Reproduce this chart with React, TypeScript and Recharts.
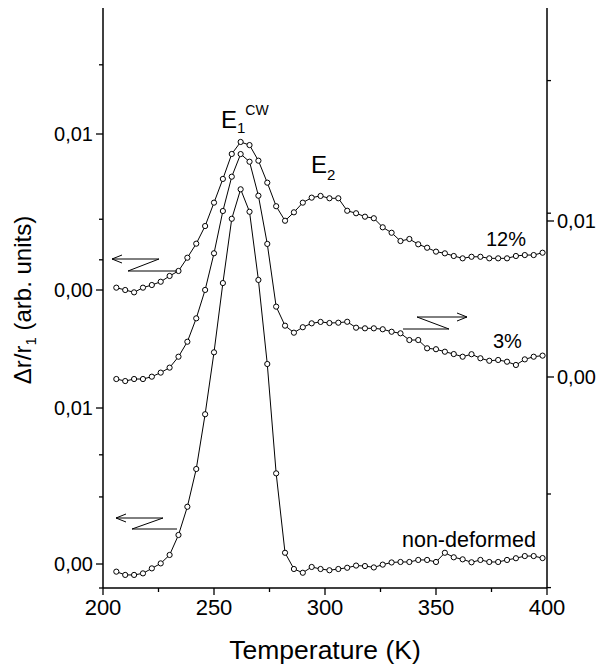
import React from "react";
import { LineChart, Line, XAxis, YAxis } from "recharts";

// temperature grid (K)
const temps = [
  206, 210, 214, 218, 222, 226, 230, 234, 238, 242, 246, 250, 254, 258, 262, 266, 270,
  274, 278, 282, 286, 290, 294, 298, 302, 306, 310, 314, 318, 322, 326, 330, 334, 338,
  342, 346, 350, 354, 358, 362, 366, 370, 374, 378, 382, 386, 390, 394, 398,
];

// Δr/r1 in units of 1e-3
const nonDeformed = [
  -0.49, -0.7, -0.7, -0.6, -0.28, 0.04, 0.58, 1.86, 3.67, 6.09, 9.6, 13.57, 18.01, 22.13,
  24.02, 22.58, 18.21, 12.82, 5.81, 0.72, -0.32, -0.56, -0.19, -0.32, -0.4, -0.32, -0.24,
  -0.1, -0.13, -0.22, -0.04, 0.1, 0.13, 0.13, 0.26, 0.26, 0.13, 0.72, 0.43, 0.3, 0.11,
  0.26, 0.13, 0.13, 0.26, 0.37, 0.51, 0.51, 0.38,
];
const deformed3 = [
  -0.13, -0.26, -0.13, -0.13, 0.02, 0.28, 0.6, 1.3, 2.26, 3.76, 5.58, 7.93, 10.64, 12.84,
  14.29, 13.8, 11.62, 8.53, 4.51, 3.29, 2.84, 3.19, 3.44, 3.53, 3.46, 3.48, 3.54, 3.16,
  3.12, 3.12, 3.06, 2.9, 2.8, 2.37, 2.37, 1.84, 1.78, 1.62, 1.47, 1.3, 1.46, 1.2, 1.04,
  1.09, 0.98, 0.77, 1.13, 1.3, 1.37,
];
const deformed12 = [
  0.15, 0, -0.15, 0.15, 0.32, 0.53, 0.9, 1.22, 2.07, 2.97, 4.1, 5.6, 7.12, 8.72, 9.49,
  9.29, 8.29, 6.88, 5.37, 4.44, 4.98, 5.6, 5.92, 6.03, 5.88, 5.88, 5.08, 4.92, 4.7, 4.6,
  4.02, 3.67, 3.14, 3.27, 2.93, 2.71, 2.46, 2.35, 2.18, 2.03, 2.13, 2.13, 2.03, 2.03, 2.03,
  2.18, 2.24, 2.24, 2.39,
];

const xTicks = [200, 225, 250, 275, 300, 325, 350, 375, 400];
const leftLabels = ["0,00", "0,01", "0,00", "0,01"];
const rightLabels = ["0,00", "0,01"];

// vertical shift of the 12% curve on the left axis
const OFFSET_12 = 0.017564;
const LEFT_MIN = -0.001538;
const LEFT_MAX = 0.035641;
const RIGHT_MIN = -0.013526;
const RIGHT_MAX = 0.023653;

const leftMajor = [0, 0.01, OFFSET_12, OFFSET_12 + 0.01];
const leftMinor = [LEFT_MIN, 0.0043, 0.007, 0.0195, 0.0221, 0.032];
const rightMajor = [0, 0.01];
const rightMinor = [-0.0135, -0.0075, 0.0105, 0.019];

const data = temps.map((t, i) => ({
  t,
  nd: nonDeformed[i] / 1000,
  p3: deformed3[i] / 1000,
  p12: deformed12[i] / 1000 + OFFSET_12,
}));

const FONT = "'Liberation Sans', Arial, sans-serif";

const BottomTick = (props: any) => {
  const { x, y, payload } = props;
  const major = payload.value % 50 === 0;
  return (
    <g>
      <line x1={x} x2={x} y1={y} y2={y + (major ? 7 : 4)} stroke="#000" strokeWidth={1.3} />
      {major && (
        <text x={x} y={y + 27} textAnchor="middle" fontSize={22} fontFamily={FONT} fill="#000">
          {payload.value}
        </text>
      )}
    </g>
  );
};

const LeftTick = (props: any) => {
  const { x, y, payload } = props;
  const idx = leftMajor.indexOf(payload.value);
  const major = idx >= 0;
  return (
    <g>
      <line x1={x} x2={x - (major ? 7 : 4)} y1={y} y2={y} stroke="#000" strokeWidth={1.3} />
      {major && (
        <text x={x - 10} y={y + 7} textAnchor="end" fontSize={20} fontFamily={FONT} fill="#000">
          {leftLabels[idx]}
        </text>
      )}
    </g>
  );
};

const RightTick = (props: any) => {
  const { x, y, payload } = props;
  const idx = rightMajor.indexOf(payload.value);
  const major = idx >= 0;
  return (
    <g>
      <line x1={x} x2={x + (major ? 7 : 4)} y1={y} y2={y} stroke="#000" strokeWidth={1.3} />
      {major && (
        <text x={x + 10} y={y + 7} textAnchor="start" fontSize={20} fontFamily={FONT} fill="#000">
          {rightLabels[idx]}
        </text>
      )}
    </g>
  );
};

const dot = { r: 2.6, fill: "#fff", stroke: "#000", strokeWidth: 1 };

export default function App() {
  return (
    <div style={{ position: "absolute", left: 0, top: 0, width: 607, height: 671, background: "#fff" }}>
      <LineChart
        width={607}
        height={671}
        data={data}
        margin={{ top: 8, right: 10, bottom: 53, left: 43 }}
      >
        <XAxis
          dataKey="t"
          type="number"
          domain={[200, 400]}
          ticks={xTicks}
          interval={0}
          height={30}
          tickSize={0}
          tickMargin={0}
          tick={<BottomTick />}
          axisLine={{ stroke: "#000", strokeWidth: 1.5 }}
          tickLine={false}
        />
        <YAxis
          yAxisId="left"
          orientation="left"
          type="number"
          domain={[LEFT_MIN, LEFT_MAX]}
          allowDataOverflow
          ticks={[...leftMinor, ...leftMajor].sort((a, b) => a - b)}
          interval={0}
          width={60}
          tickSize={0}
          tickMargin={0}
          tick={<LeftTick />}
          axisLine={{ stroke: "#000", strokeWidth: 1.5 }}
          tickLine={false}
        />
        <YAxis
          yAxisId="right"
          orientation="right"
          type="number"
          domain={[RIGHT_MIN, RIGHT_MAX]}
          allowDataOverflow
          ticks={[...rightMinor, ...rightMajor].sort((a, b) => a - b)}
          interval={0}
          width={50}
          tickSize={0}
          tickMargin={0}
          tick={<RightTick />}
          axisLine={{ stroke: "#000", strokeWidth: 1.5 }}
          tickLine={false}
        />
        <Line yAxisId="left" dataKey="nd" stroke="#000" strokeWidth={1} dot={dot} isAnimationActive={false} />
        <Line yAxisId="right" dataKey="p3" stroke="#000" strokeWidth={1} dot={dot} isAnimationActive={false} />
        <Line yAxisId="left" dataKey="p12" stroke="#000" strokeWidth={1} dot={dot} isAnimationActive={false} />
      </LineChart>

      <svg
        width={607}
        height={671}
        style={{ position: "absolute", left: 0, top: 0, pointerEvents: "none" }}
        fontFamily={FONT}
      >
        {/* broken arrows pointing to the axes */}
        <g stroke="#000" strokeWidth={1} fill="none">
          <polyline points="177,271 128,271 159,259 112,259" />
          <polyline points="122,255 112,259 122,263" />
          <polyline points="177,529 132,529 163,518 116,518" />
          <polyline points="126,514 116,518 126,522" />
          <polyline points="403,329 449,329 417,317 467,317" />
          <polyline points="457,313 467,317 457,321" />
        </g>

        <text x={221} y={128} fontSize={24} fill="#000">
          E<tspan fontSize={15} dy={5}>1</tspan>
          <tspan fontSize={14} dy={-18}>CW</tspan>
        </text>
        <text x={311} y={173} fontSize={24} fill="#000">
          E<tspan fontSize={15} dy={7}>2</tspan>
        </text>
        <text x={486} y={246} fontSize={20} fill="#000">12%</text>
        <text x={493} y={348} fontSize={20} fill="#000">3%</text>
        <text x={402} y={547} fontSize={21.5} fill="#000">non-deformed</text>

        <text x={325} y={659} fontSize={26.5} textAnchor="middle" fill="#000">
          Temperature (K)
        </text>
        <text
          transform="translate(31,300) rotate(-90)"
          fontSize={24}
          textAnchor="middle"
          fill="#000"
        >
          Δr/r<tspan fontSize={15} dy={5}>1</tspan>
          <tspan dy={-5}> (arb. units)</tspan>
        </text>
      </svg>
    </div>
  );
}
